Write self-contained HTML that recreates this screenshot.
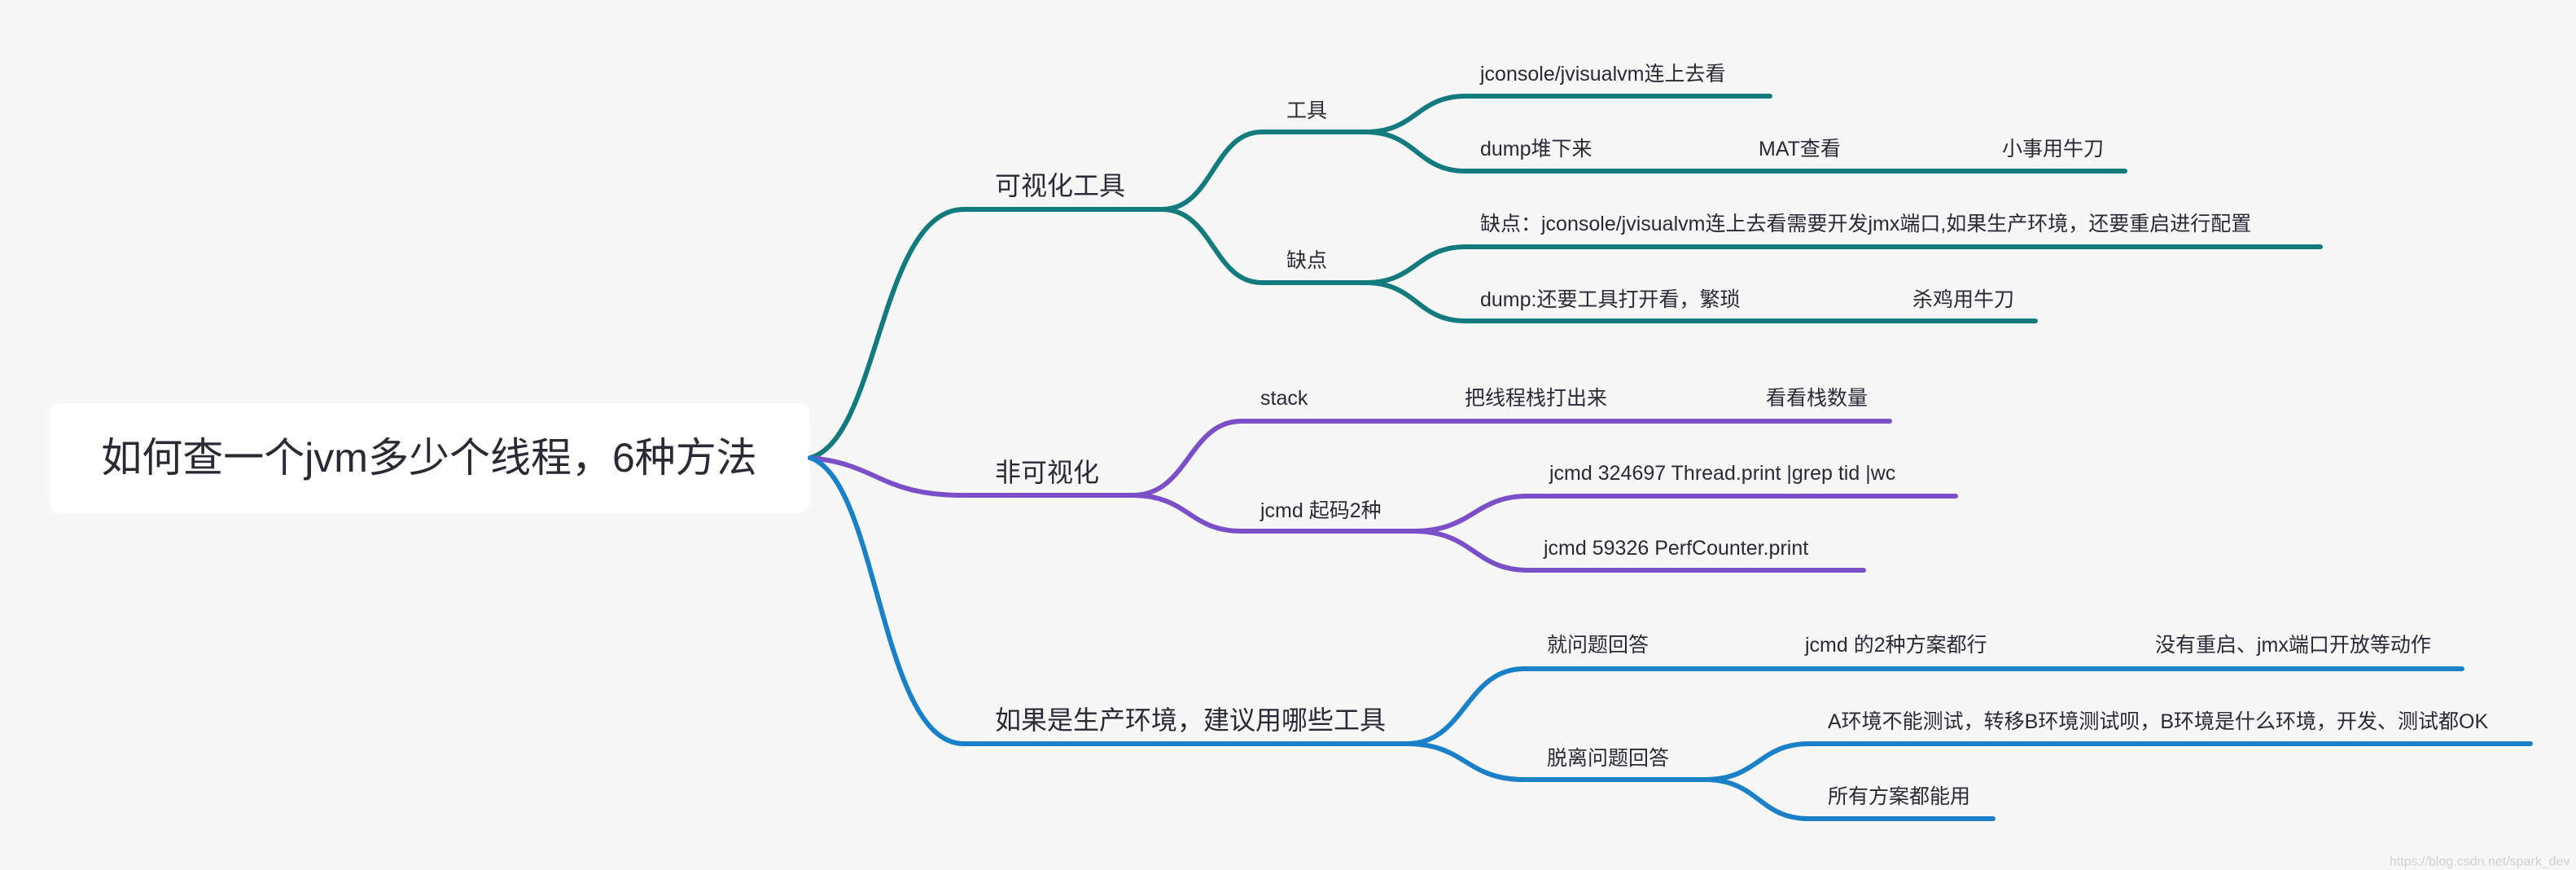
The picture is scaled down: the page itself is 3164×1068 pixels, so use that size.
<!DOCTYPE html>
<html><head><meta charset="utf-8"><style>
html,body{margin:0;padding:0;background:#f7f7f7;}
svg{display:block}
text{font-family:"Liberation Sans","Noto Sans CJK SC",sans-serif;fill:#2a2a35;dominant-baseline:central}
.b{font-size:32px}.c{font-size:25px}
</style></head><body>
<svg width="3164" height="1068" viewBox="0 0 3164 1068" xmlns="http://www.w3.org/2000/svg">
<rect x="0" y="0" width="3164" height="1068" fill="#f7f7f7"/>
<rect x="61" y="495" width="933" height="135" rx="12" fill="#ffffff"/>
<text x="527" y="562" font-size="50" text-anchor="middle">如何查一个jvm多少个线程，6种方法</text>
<g fill="none" stroke-width="6" stroke-linecap="round">
<!-- teal -->
<g stroke="#137b7e">
<path d="M995 562 C1080 540 1080 257 1184 257 L1427 257"/>
<path d="M1427 257 C1490 257 1490 162 1550 162 L1677 162"/>
<path d="M1427 257 C1490 257 1490 347 1550 347 L1677 347"/>
<path d="M1677 162 C1740 162 1740 118 1800 118 L2174 118"/>
<path d="M1677 162 C1740 162 1740 210 1800 210 L2610 210"/>
<path d="M1677 347 C1740 347 1740 303 1800 303 L2850 303"/>
<path d="M1677 347 C1740 347 1740 394 1800 394 L2500 394"/>
</g>
<g stroke="#7b4fc8">
<path d="M995 562 C1080 570 1080 608 1184 608 L1391 608"/>
<path d="M1391 608 C1460 608 1460 517 1525 517 L2321 517"/>
<path d="M1391 608 C1460 608 1460 652 1525 652 L1736 652"/>
<path d="M1736 652 C1810 652 1810 609 1877 609 L2402 609"/>
<path d="M1736 652 C1810 652 1810 700 1877 700 L2289 700"/>
</g>
<g stroke="#1a80c8">
<path d="M995 562 C1080 590 1080 913 1184 913 L1728 913"/>
<path d="M1728 913 C1800 913 1800 821 1872 821 L3024 821"/>
<path d="M1728 913 C1800 913 1800 957 1872 957 L2094 957"/>
<path d="M2094 957 C2160 957 2160 913 2222 913 L3108 913"/>
<path d="M2094 957 C2160 957 2160 1005 2222 1005 L2448 1005"/>
</g>
</g>
<text class="b" x="1222" y="228">可视化工具</text>
<text class="b" x="1222" y="580">非可视化</text>
<text class="b" x="1222" y="884">如果是生产环境，建议用哪些工具</text>
<text class="c" x="1580" y="136">工具</text>
<text class="c" x="1580" y="320">缺点</text>
<text class="c" x="1818" y="91">jconsole/jvisualvm连上去看</text>
<text class="c" x="1818" y="183">dump堆下来</text>
<text class="c" x="2160" y="183">MAT查看</text>
<text class="c" x="2459" y="183">小事用牛刀</text>
<text class="c" x="1818" y="275">缺点：jconsole/jvisualvm连上去看需要开发jmx端口,如果生产环境，还要重启进行配置</text>
<text class="c" x="1818" y="368">dump:还要工具打开看，繁琐</text>
<text class="c" x="2349" y="368">杀鸡用牛刀</text>
<text class="c" x="1548" y="489">stack</text>
<text class="c" x="1799" y="489">把线程栈打出来</text>
<text class="c" x="2169" y="489">看看栈数量</text>
<text class="c" x="1548" y="627">jcmd 起码2种</text>
<text class="c" x="1903" y="581">jcmd 324697  Thread.print |grep tid |wc</text>
<text class="c" x="1896" y="673">jcmd  59326 PerfCounter.print</text>
<text class="c" x="1900" y="792">就问题回答</text>
<text class="c" x="2217" y="792">jcmd 的2种方案都行</text>
<text class="c" x="2647" y="792">没有重启、jmx端口开放等动作</text>
<text class="c" x="1900" y="931">脱离问题回答</text>
<text class="c" x="2245" y="886">A环境不能测试，转移B环境测试呗，B环境是什么环境，开发、测试都OK</text>
<text class="c" x="2245" y="978">所有方案都能用</text>
<text x="2935" y="1058" font-size="16" style="fill:#d0d0d0">https://blog.csdn.net/spark_dev</text>
</svg>
</body></html>
